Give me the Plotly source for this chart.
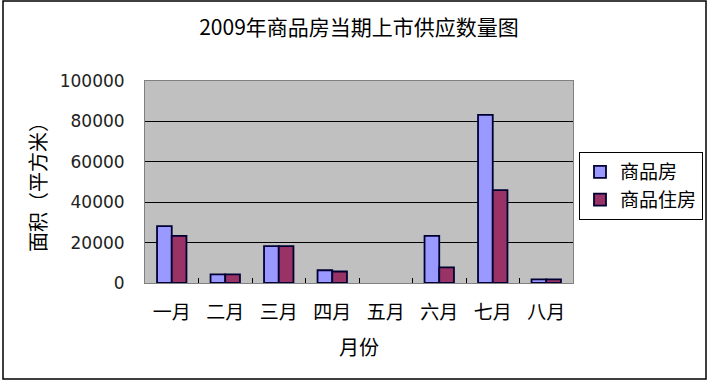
import plotly.graph_objects as go

months = ["一月", "二月", "三月", "四月", "五月", "六月", "七月", "八月"]
commercial = [28200, 4300, 18300, 6300, 0, 23300, 83200, 1800]
residential = [23300, 4300, 18300, 5700, 0, 7700, 46000, 1800]
series_names = ["商品房", "商品住房"]
y_ticks = [0, 20000, 40000, 60000, 80000, 100000]

FONT = "DejaVu Sans, Noto Sans CJK SC"
CJK = "Noto Sans CJK SC"
W, H = 708, 383
L, R, T, B = 145, 135, 81, 100
pw, ph = W - L - R, H - T - B


def lw(vals):
    return [1.8 if v > 0 else 0 for v in vals]


fig = go.Figure()
fig.add_trace(go.Bar(x=months, y=commercial, name=series_names[0],
                     marker=dict(color="#9999FF", line=dict(color="#000033", width=lw(commercial)))))
fig.add_trace(go.Bar(x=months, y=residential, name=series_names[1],
                     marker=dict(color="#993366", line=dict(color="#000033", width=lw(residential)))))

# outer border
fig.add_shape(type="rect", xref="paper", yref="paper",
              x0=(3 - L) / pw, x1=(706 - L) / pw,
              y0=(H - B - 379) / ph, y1=(H - B - 1) / ph,
              line=dict(color="black", width=1.5), fillcolor="rgba(0,0,0,0)", layer="below")

fig.update_layout(
    width=W, height=H,
    margin=dict(l=L, r=R, t=T, b=B, autoexpand=False),
    paper_bgcolor="white", plot_bgcolor="#C0C0C0",
    font=dict(family=FONT, color="black", size=15),
    title=dict(text="2009年商品房当期上市供应数量图", x=0.5, xanchor="center",
               xref="paper", y=1 - 28 / H, yanchor="middle",
               font=dict(size=21, family=CJK)),
    barmode="group", bargap=0.45, bargroupgap=0.0,
    showlegend=True,
    legend=dict(x=(579 - L) / pw, y=(H - B - 152) / ph, xanchor="left", yanchor="top",
                bordercolor="black", borderwidth=1, bgcolor="white", itemwidth=30,
                font=dict(size=19, family=CJK), tracegroupgap=0),
    xaxis=dict(title=dict(text="月份", font=dict(size=20, family=CJK), standoff=18),
               automargin=False,
               tickfont=dict(size=19, family=CJK), ticklabelstandoff=12,
               showline=True, linecolor="#808080", linewidth=1,
               mirror=True, ticks="inside", tickson="boundaries", ticklen=5,
               tickcolor="black", showgrid=False),
    yaxis=dict(title=dict(text="面积（平方米）", font=dict(size=20, family=CJK), standoff=7),
               automargin=False,
               range=[0, 100000], tickvals=y_ticks, ticktext=[str(v) for v in y_ticks],
               tickfont=dict(size=17, color="#222222"), ticklabelstandoff=16,
               showline=True, linecolor="#808080", linewidth=1,
               mirror=True, showgrid=True, gridcolor="black", gridwidth=1,
               ticks="", zeroline=False),
)

fig.write_html("out.html", config={"displayModeBar": False},
               post_script="document.body.style.margin='0';")
